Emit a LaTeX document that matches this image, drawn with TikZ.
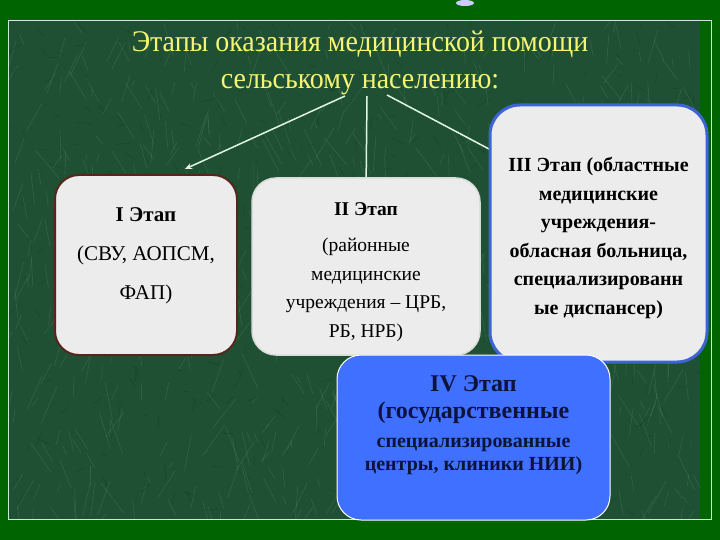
\documentclass[tikz,border=0pt]{standalone}
\usepackage{graphicx}
\usepackage{fontspec}
\setmainfont{Liberation Serif}
\usetikzlibrary{arrows.meta,calc}
\definecolor{outerg}{RGB}{0,100,0}
\definecolor{marble}{RGB}{32,80,52}
\definecolor{streakc}{RGB}{150,215,170}
\definecolor{darkvein}{RGB}{10,45,25}
\definecolor{innerb}{RGB}{200,235,215}
\definecolor{titlec}{RGB}{245,245,115}
\definecolor{boxfill}{RGB}{236,236,236}
\definecolor{brownb}{RGB}{85,38,28}
\definecolor{greyb}{RGB}{215,220,215}
\definecolor{blueb}{RGB}{60,100,215}
\definecolor{bluefill}{RGB}{64,112,255}
\definecolor{navytxt}{RGB}{12,20,60}
\definecolor{connc}{RGB}{225,245,225}
\tikzset{
  boxbase/.style={rectangle, rounded corners=24pt, fill=boxfill, inner sep=0pt},
  boxone/.style={boxbase, draw=brownb, line width=2pt, minimum width=182pt, minimum height=180pt},
  boxtwo/.style={boxbase, draw=greyb, line width=1.5pt, minimum width=228pt, minimum height=177pt},
  boxthree/.style={boxbase, rounded corners=30pt, draw=blueb, line width=3pt, minimum width=217pt, minimum height=257pt},
  boxfour/.style={rectangle, rounded corners=24pt, fill=bluefill, draw=white, line width=1pt, minimum width=273pt, minimum height=165pt, inner sep=0pt},
  titletxt/.style={text=titlec, font=\fontsize{30}{34}\selectfont, inner sep=0pt, anchor=base},
  boxtxt/.style={align=center, text=black, inner sep=0pt},
  conn/.style={draw=connc, line width=1.5pt, -{Stealth[length=7pt,width=6pt]}},
  streak/.style={draw=streakc, opacity=0.14, line width=0.6pt},
  dstreak/.style={draw=darkvein, opacity=0.25, line width=0.8pt}
}
\begin{document}
\begin{tikzpicture}[x=1pt,y=-1pt]
\useasboundingbox (0,0) rectangle (720,540);
\fill[outerg] (0,0) rectangle (720,540);
\fill[marble] (8,20) rectangle (700,519);
\begin{scope}
\clip (8,20) rectangle (700,519);
\pgfmathsetseed{11}
\foreach \i in {1,...,400}{
  \pgfmathsetmacro\xa{8+692*rnd}
  \pgfmathsetmacro\ya{20+499*rnd}
  \pgfmathsetmacro\ang{360*rnd}
  \pgfmathsetmacro\len{4+12*rnd}
  \draw[dstreak] (\xa,\ya) -- ++(\ang:\len);
}
\foreach \i in {1,...,700}{
  \pgfmathsetmacro\xa{8+692*rnd}
  \pgfmathsetmacro\ya{20+499*rnd}
  \pgfmathsetmacro\ang{50+80*rnd}
  \pgfmathsetmacro\len{5+35*rnd}
  \draw[streak] (\xa,\ya) -- ++(\ang:\len);
}
\end{scope}
\draw[innerb, line width=0.8pt] (8,20) rectangle (711,519);
\fill[white!80!blue] (465,3) ellipse (9pt and 3pt);

\node[titletxt] (title1) at (360,52) {\scalebox{0.93}[1]{Этапы оказания медицинской помощи}};
\node[titletxt] (title2) at (360,89) {\scalebox{0.93}[1]{сельському населению:}};

\coordinate (s1) at (345,96);
\coordinate (s2) at (367,96);
\coordinate (s3) at (387,95);
\coordinate (e1) at (185,169);
\coordinate (e3) at (506,158);

\draw[conn] (s1) -- (e1);
\draw[conn] (s2) -- (366,192);
\draw[conn] (s3) -- (e3);

\node[boxone] (b1) at (146,265) {};
\node[boxtwo] (b2) at (366,266.5) {};
\node[boxthree] (b3) at (598.5,233.5) {};
\node[boxfour] (b4) at (473.5,437.5) {};

\node[boxtxt, font=\fontsize{21}{39}\selectfont] (t1) at (146,256)
  {\textbf{I Этап}\\(СВУ, АОПСМ,\\ФАП)};
\node[boxtxt, font=\fontsize{19.5}{28.5}\selectfont] (t2) at (366,272)
  {\textbf{II Этап}\\[8pt](районные\\медицинские\\учреждения – ЦРБ,\\РБ, НРБ)};
\node[boxtxt, font=\fontsize{20}{28.5}\selectfont\bfseries] (t3) at (598.5,238)
  {III Этап (областные\\медицинские\\учреждения-\\обласная больница,\\специализированн\\ые диспансер)};
\node[boxtxt, text=navytxt, font=\fontsize{20}{27}\selectfont\bfseries] (t4) at (473.5,425)
  {{\fontsize{24}{24}\selectfont IV Этап}\\{\fontsize{24}{24}\selectfont (государственные}\\[2pt]специализированные\\[-4pt]центры, клиники НИИ)};
\end{tikzpicture}
\end{document}
